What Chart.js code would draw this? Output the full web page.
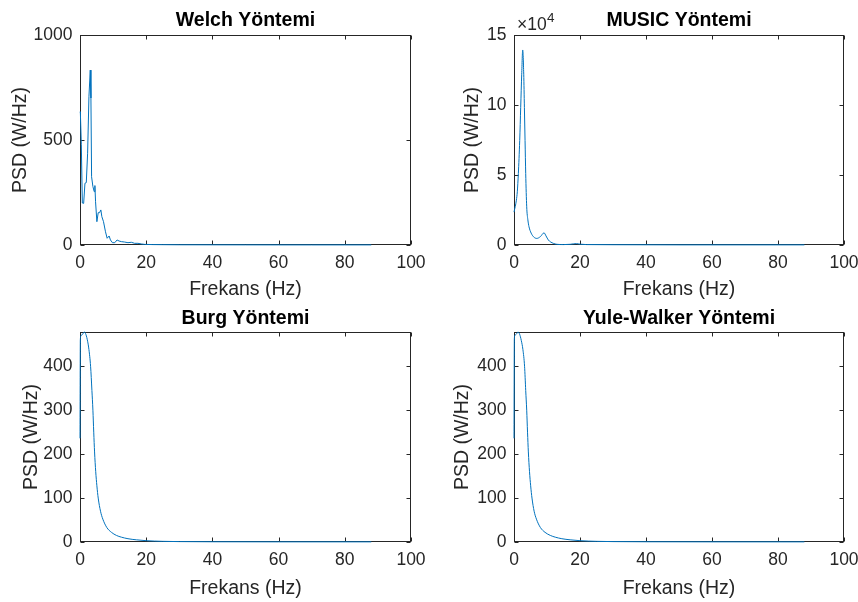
<!DOCTYPE html>
<html>
<head>
<meta charset="utf-8">
<script src="https://cdn.jsdelivr.net/npm/chart.js@4.4.1/dist/chart.umd.min.js"></script>
<style>
  body { margin: 0; background: #fff; }
  canvas { position: absolute; }
</style>
</head>
<body>
<canvas id="welch" width="429" height="301" style="left:0;top:0"></canvas>
<canvas id="music" width="429" height="301" style="left:429px;top:0"></canvas>
<canvas id="burg" width="429" height="301" style="left:0;top:301px"></canvas>
<canvas id="yule" width="429" height="301" style="left:429px;top:301px"></canvas>
<script>
const xLabel = "Frekans (Hz)";
const yLabel = "PSD (W/Hz)";
const freqTicks = [0, 20, 40, 60, 80, 100];

// Welch
const welchFreq = [0, 0.1, 0.4, 0.7, 1.1, 1.5, 1.9, 2.3, 2.7, 3.1, 3.3, 3.5, 3.9, 4.3, 4.5, 4.7, 5.1, 5.5, 5.9, 6.3, 6.6, 7.1, 7.7, 8.2, 8.8, 9.2, 9.8, 10.5, 11.2, 11.8, 12.5, 13.5, 14.5, 15.5, 16.5, 17.5, 18.5, 19.5, 22, 25, 30, 40, 50, 60, 70, 80, 88];
const welchPsd = [630, 635, 480, 200, 198, 294, 297, 437, 706, 833, 700, 325, 278, 254, 283, 206, 111, 154, 154, 167, 135, 111, 63, 32, 43, 24, 11, 11, 24, 19, 16, 14, 11, 13, 8, 8, 5, 3, 2, 1.5, 1, 0.8, 0.6, 0.5, 0.5, 0.5, 0.5];
const welchTicks = [0, 500, 1000];

// MUSIC
const musicFreq = [0, 0.72, 1.0, 1.32, 1.73, 2.03, 2.34, 2.64, 2.95, 3.15, 3.35, 3.55, 3.85, 4.2, 4.55, 5.2, 5.9, 6.9, 8.0, 9.1, 9.7, 10.4, 11.9, 13, 15, 17, 18.9, 20, 22, 30, 50, 70, 88];
const musicPsd = [23500, 32000, 38000, 51000, 74600, 98300, 122000, 139300, 122000, 98300, 74600, 51000, 27300, 18000, 13000, 8500, 5900, 4700, 6000, 8700, 6500, 3600, 1200, 500, 300, 500, 1000, 600, 300, 200, 100, 100, 100];
const musicTicks = [0, 50000, 100000, 150000];

// Burg
const burgFreq = [0, 0.1, 0.3, 0.7, 1.3, 1.8, 2.3, 2.7, 3.2, 3.6, 3.9, 4.15, 4.4, 4.75, 5.1, 5.5, 6.2, 6.9, 8.1, 9.5, 11, 12.5, 14.5, 17, 20, 25, 30, 40, 60, 88];
const burgPsd = [236, 460, 470, 472, 478, 472, 457, 438, 400, 345, 300, 250, 205, 160, 128, 100, 70, 52, 33, 22, 15, 11, 7.5, 5, 3, 1.5, 0.9, 0.5, 0.35, 0.3];

// Yule-Walker
const yuleFreq = [0, 0.1, 0.3, 0.7, 1.2, 1.7, 2.2, 2.7, 3.2, 3.55, 3.85, 4.1, 4.35, 4.7, 5.05, 5.45, 6.1, 6.8, 8.0, 9.4, 11, 12.5, 14.5, 17, 20, 25, 30, 40, 60, 88];
const yulePsd = [236, 462, 471, 473, 478, 473, 459, 438, 400, 345, 300, 250, 205, 160, 128, 100, 70, 52, 33, 22, 15, 11, 7.5, 5, 3, 1.5, 0.9, 0.5, 0.35, 0.3];
const arTicks = [0, 100, 200, 300, 400];

const fontFamily = '"Liberation Sans", Arial, Helvetica, sans-serif';
const ink = "#262626";
const lineColor = "#0072BD";

// MATLAB-like box with inward ticks, drawn under the line; title and exponent on top
const boxPlugin = {
  id: "matlabBox",
  beforeDatasetsDraw(chart) {
    const { ctx, chartArea: a, scales } = chart;
    const L = Math.round(a.left) + 0.5, R = Math.round(a.right) - 0.5;
    const T = Math.round(a.top) + 0.5, B = Math.round(a.bottom) - 0.5;
    ctx.save();
    ctx.strokeStyle = ink;
    ctx.lineWidth = 1;
    ctx.strokeRect(L, T, R - L, B - T);
    ctx.beginPath();
    scales.x.ticks.forEach((t) => {
      const px = Math.round(scales.x.getPixelForValue(t.value)) + 0.5;
      ctx.moveTo(px, B); ctx.lineTo(px, B - 4);
      ctx.moveTo(px, T); ctx.lineTo(px, T + 4);
    });
    scales.y.ticks.forEach((t) => {
      const py = Math.round(scales.y.getPixelForValue(t.value)) + 0.5;
      ctx.moveTo(L, py); ctx.lineTo(L + 4, py);
      ctx.moveTo(R, py); ctx.lineTo(R - 4, py);
    });
    ctx.stroke();
    ctx.restore();
  },
  afterDraw(chart) {
    const { ctx, chartArea: a } = chart;
    const o = chart.options.plugins.matlabBox;
    ctx.save();
    ctx.textBaseline = "alphabetic";
    ctx.textAlign = "center";
    ctx.fillStyle = "#000";
    ctx.font = "bold 19.5px " + fontFamily;
    ctx.fillText(o.title, (a.left + a.right) / 2, o.titleBase);
    if (o.exponent) {
      ctx.fillStyle = ink;
      ctx.textAlign = "left";
      ctx.textBaseline = "middle";
      ctx.font = "17.5px " + fontFamily;
      ctx.fillText("\u00d710", a.left + 3, a.top - 10);
      ctx.font = "13.5px " + fontFamily;
      ctx.fillText(o.exponent, a.left + 33, a.top - 17);
    }
    ctx.restore();
  },
};

function makeChart(id, title, freq, psd, yTicks, yMax, tickScale, lay) {
  const points = freq.map((f, i) => ({ x: f, y: psd[i] }));
  return new Chart(document.getElementById(id), {
    type: "line",
    data: {
      datasets: [{
        data: points,
        borderColor: lineColor,
        borderWidth: 1,
        pointRadius: 0,
        fill: false,
        clip: false,
        tension: 0,
        cubicInterpolationMode: lay.smooth ? "monotone" : "default",
      }],
    },
    options: {
      responsive: false,
      animation: false,
      layout: { padding: { left: 0, right: lay.right, top: lay.top, bottom: 0 } },
      plugins: {
        legend: { display: false },
        tooltip: { enabled: false },
        title: { display: false },
        matlabBox: { title: title, titleBase: lay.titleBase, exponent: lay.exponent },
      },
      scales: {
        x: {
          type: "linear",
          min: 0,
          max: 100,
          afterBuildTicks: (s) => { s.ticks = freqTicks.map((v) => ({ value: v })); },
          afterFit: (s) => { s.height = lay.xHeight; s.paddingLeft = 0; s.paddingRight = 0; },
          grid: { display: false, drawTicks: false },
          border: { display: false },
          ticks: { color: ink, padding: 8, font: { family: fontFamily, size: 17.5 } },
          title: {
            display: true,
            text: xLabel,
            color: ink,
            font: { family: fontFamily, size: 19.5, lineHeight: 1.2 },
            padding: { top: 0, bottom: lay.xTitleBottom },
          },
        },
        y: {
          type: "linear",
          min: 0,
          max: yMax,
          afterBuildTicks: (s) => { s.ticks = yTicks.map((v) => ({ value: v })); },
          afterFit: (s) => { s.width = lay.yWidth; s.paddingTop = 0; s.paddingBottom = 0; },
          grid: { display: false, drawTicks: false },
          border: { display: false },
          ticks: {
            color: ink,
            padding: 7.5,
            font: { family: fontFamily, size: 17.5 },
            callback: (v) => String(v / tickScale),
          },
          title: {
            display: true,
            text: yLabel,
            color: ink,
            font: { family: fontFamily, size: 19.5, lineHeight: 1.2 },
            padding: { top: lay.yTitleTop, bottom: 0 },
          },
        },
      },
    },
    plugins: [boxPlugin],
  });
}

makeChart("welch", "Welch Yöntemi", welchFreq, welchPsd, welchTicks, 1000, 1,
  { right: 18, top: 35, titleBase: 26, xHeight: 56, xTitleBottom: 0, yWidth: 80, yTitleTop: 9.3, smooth: false });
makeChart("music", "MUSIC Yöntemi", musicFreq, musicPsd, musicTicks, 150000, 10000,
  { right: 14, top: 35, titleBase: 26, xHeight: 56, xTitleBottom: 0, yWidth: 85, yTitleTop: 32.3, smooth: true, exponent: "4" });
makeChart("burg", "Burg Yöntemi", burgFreq, burgPsd, arTicks, 478, 1,
  { right: 18, top: 31, titleBase: 22.7, xHeight: 60, xTitleBottom: 2, yWidth: 80, yTitleTop: 20.3, smooth: true });
makeChart("yule", "Yule-Walker Yöntemi", yuleFreq, yulePsd, arTicks, 478, 1,
  { right: 14, top: 31, titleBase: 22.7, xHeight: 60, xTitleBottom: 2, yWidth: 85, yTitleTop: 22.3, smooth: true });
</script>
</body>
</html>
